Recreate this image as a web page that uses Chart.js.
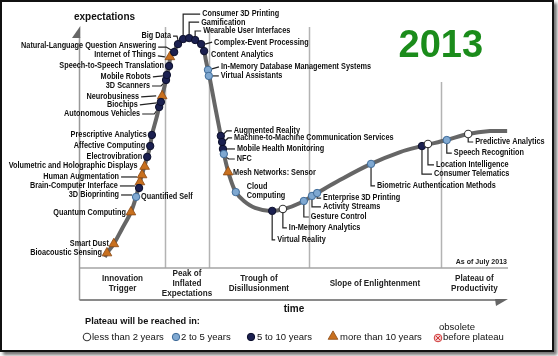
<!DOCTYPE html>
<html><head><meta charset="utf-8">
<script src="https://cdn.jsdelivr.net/npm/chart.js@4.4.1/dist/chart.umd.min.js"></script>
<style>html,body{margin:0;padding:0;background:#fff;}canvas{display:block;}</style>
</head><body>
<canvas id="c" width="558" height="356"></canvas>
<script>
// ---------- DATA ----------
const categories = ['less than 2 years', '2 to 5 years', '5 to 10 years', 'more than 10 years'];
const techNames = [
  'Bioacoustic Sensing', 'Smart Dust', 'Quantum Computing', 'Quantified Self', '3D Bioprinting',
  'Brain-Computer Interface', 'Human Augmentation', 'Volumetric and Holographic Displays', 'Electrovibration',
  'Affective Computing', 'Prescriptive Analytics', 'Autonomous Vehicles', 'Biochips', 'Neurobusiness',
  '3D Scanners', 'Mobile Robots', 'Speech-to-Speech Translation', 'Internet of Things',
  'Natural-Language Question Answering', 'Big Data', 'Consumer 3D Printing', 'Gamification',
  'Wearable User Interfaces', 'Complex-Event Processing', 'Content Analytics',
  'In-Memory Database Management Systems', 'Virtual Assistants', 'Augmented Reality',
  'Machine-to-Machine Communication Services', 'Mobile Health Monitoring', 'NFC', 'Mesh Networks: Sensor',
  'Cloud\nComputing', 'Virtual Reality', 'In-Memory Analytics', 'Gesture Control', 'Activity Streams',
  'Enterprise 3D Printing', 'Biometric Authentication Methods', 'Consumer Telematics',
  'Location Intelligence', 'Speech Recognition', 'Predictive Analytics'
];
const techTime = [6.3, 7.9, 11.9, 13.1, 13.8, 14.0, 14.5, 15.1, 15.7, 16.4, 16.8, 18.5, 18.9, 19.2, 20.1, 20.3,
  20.8, 21.0, 22.0, 22.9, 24.1, 25.5, 26.9, 28.3, 29.0, 29.9, 30.1, 32.9, 33.2, 33.4, 33.6, 34.6, 36.4, 44.9,
  47.4, 52.3, 54.2, 55.4, 68.0, 79.9, 81.3, 85.7, 90.7];
const techExpect = [6.2, 10.0, 23.2, 29.5, 33.2, 35.7, 38.6, 42.1, 46.1, 50.6, 55.2, 66.8, 68.9, 71.4, 78.0, 80.1,
  83.8, 87.6, 89.6, 92.9, 95.0, 95.4, 94.6, 92.9, 90.0, 82.2, 79.7, 54.8, 52.3, 49.4, 47.3, 39.8, 31.5, 23.7,
  24.5, 27.8, 29.9, 31.1, 43.2, 50.6, 51.5, 53.1, 55.6];
// index into categories
const techPlateau = [3, 3, 3, 1, 2, 3, 3, 3, 2, 2, 2, 2, 2, 3, 2, 2, 2, 3, 2, 2, 2, 2, 2, 2, 2, 1, 1, 2, 2, 2, 1, 3,
  1, 2, 0, 1, 1, 1, 1, 2, 0, 1, 0];
const curveTime = [5.8, 6.3, 7.9, 9.8, 11.9, 13.1, 14.0, 15.0, 15.7, 16.4, 16.8, 17.8, 18.5, 19.2, 20.1, 20.8, 21.1,
  22.0, 22.9, 24.1, 25.5, 26.9, 28.3, 29.0, 29.4, 29.9, 30.4, 31.5, 32.9, 33.4, 34.1, 35.0, 36.4, 38.3, 40.9, 44.4,
  47.7, 51.4, 55.4, 60.7, 68.0, 74.8, 79.9, 85.7, 90.7, 95.8, 99.8];
const curveExpect = [4.6, 6.2, 10.0, 16.2, 23.2, 29.5, 35.7, 41.9, 46.1, 50.6, 55.2, 61.8, 66.8, 71.4, 78.0, 83.8, 87.1,
  90.0, 92.9, 95.0, 95.4, 94.6, 92.9, 90.0, 86.3, 82.2, 78.0, 67.6, 54.8, 49.4, 43.6, 37.8, 31.5, 27.8, 24.9, 23.7,
  24.5, 27.0, 31.1, 36.5, 43.2, 48.1, 50.6, 53.1, 55.6, 56.8, 56.8];
const phaseNames = ['Innovation\nTrigger', 'Peak of\nInflated\nExpectations', 'Trough of\nDisillusionment',
  'Slope of Enlightenment', 'Plateau of\nProductivity'];
const phaseBounds = [0, 19.9, 30.1, 53.5, 84.3, 100];
const yearTitle = '2013';
const asOfText = 'As of July 2013';
const yAxisTitle = 'expectations';
const xAxisTitle = 'time';
const legendTitle = 'Plateau will be reached in:';
const obsoleteText = ['obsolete', 'before plateau'];

// ---------- STYLES / LAYOUT ----------
const markerStyles = [
  {pointStyle: 'circle', pointRadius: 3.7, backgroundColor: '#ffffff', borderColor: '#3a3a3a', borderWidth: 1.1},
  {pointStyle: 'circle', pointRadius: 3.7, backgroundColor: '#7fa8d1', borderColor: '#3f6b98', borderWidth: 1},
  {pointStyle: 'circle', pointRadius: 3.7, backgroundColor: '#1b2050', borderColor: '#0b0e2a', borderWidth: 1},
  {pointStyle: 'triangle', pointRadius: 5.6, backgroundColor: '#c8701f', borderColor: '#8a4812', borderWidth: 0.8}
];
// [dx, dy, align, leader] label offsets relative to each marker (pixels)
const labelLayout = [
  [-5,0,'right',null],[-5,0,'right',null],[-5,0,'right',null],[5,0,'left',null],
  [-20,7,'right',[[-18,7],[-7,7]]],[-22,4,'right',[[-20,4],[-5,4]]],[-23,2,'right',[[-21,2],[-5,2]]],
  [-7,-1,'right',null],[-5,0,'right',null],[-5,0,'right',null],[-5,0,'right',null],
  [-19,7,'right',[[-17,7],[-5,7],[-2,3]]],[-23,3,'right',[[-21,3],[-4,1]]],[-23,1,'right',[[-21,1],[-6,0]]],
  [-16,6,'right',[[-14,6],[-5,6],[-2,3]]],[-16,2,'right',[[-14,2],[-4,1]]],[-5,0,'right',null],
  [-14,-2,'right',[[-12,-1],[-5,0]]],[-18,-6,'right',[[-16,-5],[-8,-5],[-3,-2]]],
  [-7,-9,'right',[[-5,-8],[-1,-8],[0,-4]]],
  [19,-25,'left','up'],[12,-16,'left','up'],[8,-9,'left','up'],
  [13,-2,'left',[[4,0],[11,-2]]],[7,3,'left',null],[13,-3,'left',[[4,-1],[11,-3]]],[12,0,'left',[[4,0],[10,0]]],
  [13,-5,'left',[[3,-2],[6,-5],[11,-5]]],[12,-4,'left',[[3,-1],[6,-4],[10,-4]]],[14,0,'left',[[4,0],[12,0]]],
  [13,5,'left',[[2,3],[5,5],[11,5]]],[5,0,'left',null],[11,-6,'left',null],
  [5,29,'left','down'],[6,19,'left','down'],[7,16,'left','down'],[11,11,'left','down'],[6,5,'left','down'],
  [6,22,'left','down'],[12,28,'left','down'],[8,21,'left','down'],[7,13,'left','down'],[7,8,'left','down']
];
const LABEL_FONT = 'bold 8.8px "Liberation Sans", Arial, sans-serif';
const LABEL_SX = 0.83;
const TEXT_COL = '#111';

function T(ctx, s, x, y, align, font, sx, color, base) {
  ctx.save();
  ctx.font = font; ctx.fillStyle = color || TEXT_COL;
  ctx.textBaseline = base || 'middle'; ctx.textAlign = align;
  ctx.translate(x, y); ctx.scale(sx, 1); ctx.fillText(s, 0, 0);
  ctx.restore();
}
function L(ctx, pts) {
  ctx.beginPath(); ctx.moveTo(pts[0][0], pts[0][1]);
  for (let i = 1; i < pts.length; i++) ctx.lineTo(pts[i][0], pts[i][1]);
  ctx.stroke();
}
function leaderPts(lay) {
  const [dx, dy, , ld] = lay;
  if (ld === 'up') return [[0,-4],[0,dy],[dx-2,dy]];
  if (ld === 'down') return [[0,4],[0,dy],[dx-2,dy]];
  return ld;
}
function drawMarker(ctx, st, x, y) {
  ctx.save();
  ctx.fillStyle = st.backgroundColor; ctx.strokeStyle = st.borderColor; ctx.lineWidth = st.borderWidth;
  Chart.helpers.drawPoint(ctx, {pointStyle: st.pointStyle, radius: st.pointRadius, rotation: 0, borderWidth: st.borderWidth}, x, y);
  ctx.restore();
}

const hypePlugin = {
  id: 'hype',
  beforeDraw(chart) {
    const ctx = chart.ctx;
    ctx.save();
    ctx.fillStyle = '#fff'; ctx.fillRect(0, 0, chart.width, chart.height);
    ctx.shadowColor = 'rgba(0,0,0,0.55)'; ctx.shadowOffsetX = 3; ctx.shadowOffsetY = 3; ctx.shadowBlur = 3;
    ctx.fillRect(0, 0, 554, 352);
    ctx.restore();
    ctx.save();
    ctx.strokeStyle = '#111'; ctx.lineWidth = 2; ctx.strokeRect(1, 1, 552, 350);
    ctx.restore();
  },
  beforeDatasetsDraw(chart) {
    const ctx = chart.ctx, xs = chart.scales.x, ys = chart.scales.y;
    const x0 = xs.getPixelForValue(0), x1 = xs.getPixelForValue(100);
    const yb = ys.getPixelForValue(0), yt = ys.getPixelForValue(100);
    const timeY = yb + 32;
    ctx.save();
    ctx.lineWidth = 1.5;
    ctx.strokeStyle = '#b3b3b3';
    phaseBounds.slice(1, -1).forEach((b, i) => {
      const px = Math.round(xs.getPixelForValue(b)) + 0.5;
      L(ctx, [[px, i === 3 ? yt + 55 : yt], [px, yb]]);
    });
    ctx.strokeStyle = '#a5a5a5';
    L(ctx, [[x0, yb], [x1, yb]]);
    ctx.strokeStyle = '#999';
    L(ctx, [[x0 - 0.5, yt + 10], [x0 - 0.5, timeY]]);
    ctx.strokeStyle = '#8a8a8a'; ctx.lineWidth = 1.8;
    L(ctx, [[x0 - 0.5, timeY], [x1 - 10, timeY]]);
    ctx.fillStyle = '#666';
    ctx.beginPath(); ctx.moveTo(x0 - 8, yt + 11); ctx.lineTo(x0 + 0.3, yt + 11); ctx.lineTo(x0 + 0.3, yt - 1); ctx.closePath(); ctx.fill();
    ctx.beginPath(); ctx.moveTo(x1 - 13, timeY - 1); ctx.lineTo(x1, timeY - 1); ctx.lineTo(x1 - 12, timeY + 6); ctx.closePath(); ctx.fill();
    // leaders
    ctx.strokeStyle = '#222'; ctx.lineWidth = 1.2;
    techNames.forEach((n, i) => {
      const pts = leaderPts(labelLayout[i]);
      if (!pts) return;
      const mx = xs.getPixelForValue(techTime[i]), my = ys.getPixelForValue(techExpect[i]);
      L(ctx, pts.map(p => [mx + p[0], my + p[1]]));
    });
    ctx.restore();
  },
  afterDatasetsDraw(chart) {
    const ctx = chart.ctx, xs = chart.scales.x, ys = chart.scales.y;
    const x0 = xs.getPixelForValue(0), x1 = xs.getPixelForValue(100);
    const yb = ys.getPixelForValue(0), yt = ys.getPixelForValue(100);
    const timeY = yb + 32;
    // technology labels
    techNames.forEach((n, i) => {
      const [dx, dy, al] = labelLayout[i];
      const mx = xs.getPixelForValue(techTime[i]), my = ys.getPixelForValue(techExpect[i]);
      n.split('\n').forEach((s, k) => T(ctx, s, mx + dx, my + dy + k * 9, al, LABEL_FONT, LABEL_SX));
    });
    // phase labels
    const PF = 'bold 9px "Liberation Sans", Arial, sans-serif';
    phaseNames.forEach((p, i) => {
      const cx = xs.getPixelForValue((phaseBounds[i] + phaseBounds[i + 1]) / 2);
      const lines = p.split('\n');
      const y0 = yb + 16 - (lines.length - 1) * 5;
      lines.forEach((s, k) => T(ctx, s, cx, y0 + k * 10, 'center', PF, 0.9, '#222'));
    });
    T(ctx, asOfText, x1 - 1, yb - 6, 'right', 'bold 8px "Liberation Sans", Arial, sans-serif', 0.88, '#222');
    T(ctx, xAxisTitle, xs.getPixelForValue(50), timeY + 9, 'center', 'bold 10px "Liberation Sans", Arial, sans-serif', 1, '#111');
    T(ctx, yAxisTitle, x0 - 6, yt - 10, 'left', 'bold 10px "Liberation Sans", Arial, sans-serif', 1, '#111');
    T(ctx, yearTitle, xs.getPixelForValue(phaseBounds[4]), yt + 30, 'center', 'bold 38px "Liberation Sans", Arial, sans-serif', 1, '#1b8c1b', 'alphabetic');
    // legend
    const ly = timeY + 37;
    T(ctx, legendTitle, x0 + 5, timeY + 21, 'left', 'bold 9.2px "Liberation Sans", Arial, sans-serif', 1, '#111');
    const LGF = '9.5px "Liberation Sans", Arial, sans-serif';
    const legX = [87, 176, 251, 333];
    const legTX = [92, 181, 257, 340];
    categories.forEach((c, i) => {
      drawMarker(ctx, markerStyles[i], legX[i], ly - (i === 3 ? 0.5 : 0));
      T(ctx, c, legTX[i], ly, 'left', LGF, 1, '#111');
    });
    // obsolete marker
    ctx.save();
    ctx.fillStyle = '#f6caca'; ctx.strokeStyle = '#d03a3a'; ctx.lineWidth = 1;
    ctx.beginPath(); ctx.arc(438, ly + 1, 3.8, 0, Math.PI * 2); ctx.fill(); ctx.stroke();
    ctx.beginPath(); ctx.moveTo(436, ly - 1); ctx.lineTo(440, ly + 3); ctx.moveTo(440, ly - 1); ctx.lineTo(436, ly + 3); ctx.stroke();
    ctx.restore();
    T(ctx, obsoleteText[0], 457, ly - 10, 'center', LGF, 1, '#111');
    T(ctx, obsoleteText[1], 443, ly, 'left', LGF, 1, '#111');
  }
};

const datasets = [{
  label: 'curve',
  data: curveTime.map((t, i) => ({x: t, y: curveExpect[i]})),
  showLine: true, borderColor: '#666666', borderWidth: 4, pointRadius: 0, tension: 0.35,
  fill: false, order: 10
}].concat(categories.map((c, ci) => Object.assign({
  label: c,
  data: techNames.map((n, i) => i).filter(i => techPlateau[i] === ci).map(i => ({x: techTime[i], y: techExpect[i]})),
  showLine: false, order: ci, pointHoverRadius: markerStyles[ci].pointRadius
}, markerStyles[ci])));

new Chart(document.getElementById('c'), {
  type: 'scatter',
  data: {datasets},
  options: {
    responsive: false, animation: false, devicePixelRatio: 1,
    layout: {padding: {left: 80, right: 50, top: 27, bottom: 88}},
    scales: {
      x: {type: 'linear', min: 0, max: 100, display: false},
      y: {type: 'linear', min: 0, max: 100, display: false}
    },
    plugins: {legend: {display: false}, tooltip: {enabled: false}},
    events: []
  },
  plugins: [hypePlugin]
});
</script>
</body></html>
